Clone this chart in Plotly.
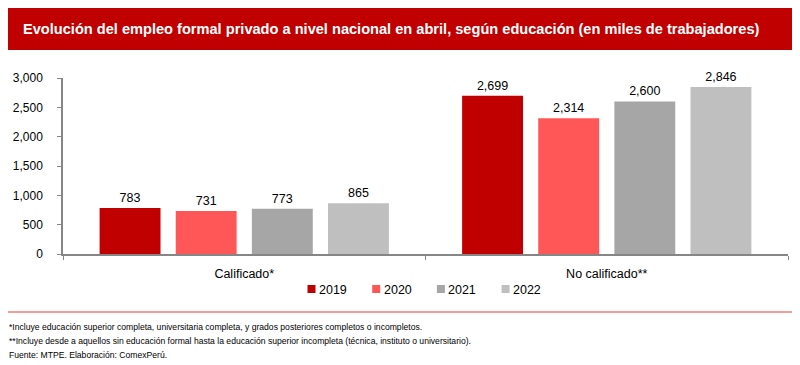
import plotly.graph_objects as go

categories = ["Calificado*", "No calificado**"]
years = ["2019", "2020", "2021", "2022"]
values_2019 = [783, 2699]
values_2020 = [731, 2314]
values_2021 = [773, 2600]
values_2022 = [865, 2846]
series_values = [values_2019, values_2020, values_2021, values_2022]
colors = ["#C00000", "#FF5757", "#A6A6A6", "#BFBFBF"]
y_ticks = [0, 500, 1000, 1500, 2000, 2500, 3000]

title_text = "Evolución del empleo formal privado a nivel nacional en abril, según educación (en miles de trabajadores)"
footnotes = [
    "*Incluye educación superior completa, universitaria completa, y grados posteriores completos o incompletos.",
    "**Incluye desde a aquellos sin educación formal hasta la educación superior incompleta (técnica, instituto o universitario).",
    "Fuente: MTPE. Elaboración: ComexPerú.",
]

FONT = "Liberation Sans, Arial, sans-serif"

# The page body has an 8px margin; the figure is sized/offset to compensate.
PL, PT, PW, PH = 63, 78, 725, 176  # plot area in window pixels


def px(X):
    return (X - PL) / PW


def py(Y):
    return (PT + PH - Y) / PH


fig = go.Figure()
for yr, vals, col in zip(years, series_values, colors):
    fig.add_trace(go.Bar(
        x=categories, y=vals, name=yr,
        marker=dict(color=col, line=dict(width=0)),
        text=[f"{v:,}" for v in vals], textposition="outside",
        textfont=dict(size=12.5, color="#000000", family=FONT),
        cliponaxis=False,
    ))

fig.update_layout(
    width=792, height=357,
    margin=dict(l=PL - 8, r=792 - (PL - 8) - PW, t=PT - 8, b=357 - (PT - 8) - PH, autoexpand=False),
    paper_bgcolor="white", plot_bgcolor="white",
    barmode="group", bargap=0.16, bargroupgap=0.2,
    font=dict(family=FONT, size=12, color="#000000"),
    showlegend=False,
    xaxis=dict(showline=True, linecolor="#868686", linewidth=1.5,
               ticks="outside", tickson="boundaries", ticklen=4, tickcolor="#868686",
               ticklabelstandoff=7, automargin=False,
               tickfont=dict(size=12.5, family=FONT)),
    yaxis=dict(range=[0, 3000], tickvals=y_ticks, tickformat=",",
               showline=True, linecolor="#868686", linewidth=1.5,
               ticks="outside", ticklen=4, tickcolor="#868686",
               ticklabelstandoff=12, automargin=False,
               showgrid=False, zeroline=False,
               tickfont=dict(size=12, family=FONT)),
)

# Title banner
fig.add_shape(type="rect", xref="paper", yref="paper",
              x0=px(7), x1=px(793), y0=py(50), y1=py(7),
              fillcolor="#C00000", line=dict(width=0), layer="below")
fig.add_annotation(text="<b>" + title_text + "</b>", xref="paper", yref="paper",
                   x=px(21), xanchor="left", y=py(29), yanchor="middle",
                   showarrow=False, font=dict(size=14.6, color="white", family=FONT))

# Manual legend
for i, (yr, col) in enumerate(zip(years, colors)):
    x0 = 307.5 + 64.7 * i
    fig.add_shape(type="rect", xref="paper", yref="paper",
                  x0=px(x0), x1=px(x0 + 8), y0=py(293), y1=py(285),
                  fillcolor=col, line=dict(width=0))
    fig.add_annotation(text=yr, xref="paper", yref="paper",
                       x=px(x0 + 9.5), xanchor="left", y=py(289.5), yanchor="middle",
                       showarrow=False, font=dict(size=12.5, color="#000000", family=FONT))

# Footer line
fig.add_shape(type="line", xref="paper", yref="paper",
              x0=px(7), x1=px(793), y0=py(312), y1=py(312),
              line=dict(color="#E83A3A", width=1.2))

for i, t in enumerate(footnotes):
    fig.add_annotation(text=t, xref="paper", yref="paper",
                       x=px(7), xanchor="left", y=py(327 + 14 * i), yanchor="middle",
                       showarrow=False, font=dict(size=8.6, color="#000000", family=FONT))

fig.write_html("out.html")
